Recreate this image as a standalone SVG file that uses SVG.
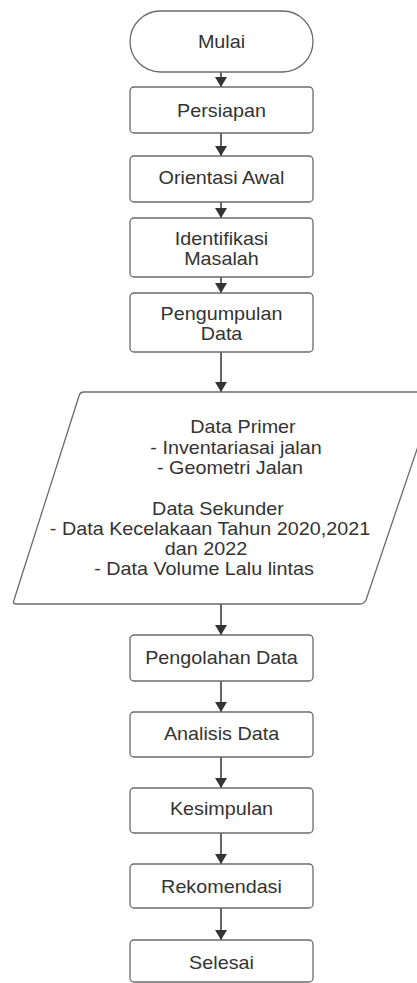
<svg xmlns="http://www.w3.org/2000/svg" width="417" height="983" viewBox="0 0 417 983">
  <style>
    .shape { fill: #ffffff; stroke: #6b6b6b; stroke-width: 1.3; }
    .label { font-family: "Liberation Sans", Arial, sans-serif; font-size: 17.8px; fill: #333333; text-anchor: middle; }
    .edge { stroke: #333333; stroke-width: 1.5; fill: none; marker-end: url(#arrow); }
  </style>
  <defs>
    <marker id="arrow" viewBox="0 0 10 12" refX="10" refY="6" markerWidth="10" markerHeight="12" markerUnits="userSpaceOnUse" orient="auto">
      <path d="M0,0 L10,6 L0,12 Z" fill="#333333"/>
    </marker>
  </defs>
  <rect width="417" height="983" fill="#ffffff"/>

  <g id="connectors">
    <line class="edge" x1="221" y1="72" x2="221" y2="87"/>
    <line class="edge" x1="221" y1="133" x2="221" y2="156"/>
    <line class="edge" x1="221" y1="202" x2="221" y2="218"/>
    <line class="edge" x1="221" y1="277" x2="221" y2="293"/>
    <line class="edge" x1="221" y1="352" x2="221" y2="392"/>
    <line class="edge" x1="221" y1="604" x2="221" y2="635"/>
    <line class="edge" x1="221" y1="681" x2="221" y2="712"/>
    <line class="edge" x1="221" y1="757" x2="221" y2="788"/>
    <line class="edge" x1="221" y1="833" x2="221" y2="864"/>
    <line class="edge" x1="221" y1="908" x2="221" y2="940"/>
  </g>

  <!-- labels use a slightly widened sans face: translate to the anchor, then stretch 1.11x -->
  <g id="mulai">
    <rect class="shape" x="130" y="11" width="183" height="61" rx="30.5" ry="30.5"/>
    <text class="label" transform="translate(221.5,48) scale(1.11,1)">Mulai</text>
  </g>
  <g id="persiapan">
    <rect class="shape" x="130" y="87" width="183" height="46" rx="4"/>
    <text class="label" transform="translate(221.5,117) scale(1.11,1)">Persiapan</text>
  </g>
  <g id="orientasi-awal">
    <rect class="shape" x="130" y="156" width="183" height="46" rx="4"/>
    <text class="label" transform="translate(221.5,184) scale(1.11,1)">Orientasi Awal</text>
  </g>
  <g id="identifikasi-masalah">
    <rect class="shape" x="130" y="218" width="183" height="59" rx="4"/>
    <text class="label" transform="translate(221.5,245) scale(1.11,1)">Identifikasi</text>
    <text class="label" transform="translate(221.5,265) scale(1.11,1)">Masalah</text>
  </g>
  <g id="pengumpulan-data">
    <rect class="shape" x="130" y="293" width="183" height="59" rx="4"/>
    <text class="label" transform="translate(221.5,320) scale(1.11,1)">Pengumpulan</text>
    <text class="label" transform="translate(221.5,340) scale(1.11,1)">Data</text>
  </g>
  <g id="data-input">
    <path class="shape" d="M84,392 L432,392 Q436,392 435,396 L366,600 Q364,604 360,604 L17,604 Q12,604 14,600 L79,396 Q80,392 84,392 Z"/>
    <text class="label" transform="translate(243,433) scale(1.11,1)">Data Primer</text>
    <text class="label" transform="translate(236,454) scale(1.11,1)">- Inventariasai jalan</text>
    <text class="label" transform="translate(230,474) scale(1.11,1)">- Geometri Jalan</text>
    <text class="label" transform="translate(218,515) scale(1.11,1)">Data Sekunder</text>
    <text class="label" transform="translate(210,535) scale(1.11,1)">- Data Kecelakaan Tahun 2020,2021</text>
    <text class="label" transform="translate(206,555) scale(1.11,1)">dan 2022</text>
    <text class="label" transform="translate(204,575) scale(1.11,1)">- Data Volume Lalu lintas</text>
  </g>
  <g id="pengolahan-data">
    <rect class="shape" x="130" y="635" width="183" height="46" rx="4"/>
    <text class="label" transform="translate(221.5,664) scale(1.11,1)">Pengolahan Data</text>
  </g>
  <g id="analisis-data">
    <rect class="shape" x="130" y="712" width="183" height="45" rx="4"/>
    <text class="label" transform="translate(221.5,740) scale(1.11,1)">Analisis Data</text>
  </g>
  <g id="kesimpulan">
    <rect class="shape" x="130" y="788" width="183" height="45" rx="4"/>
    <text class="label" transform="translate(221.5,815) scale(1.11,1)">Kesimpulan</text>
  </g>
  <g id="rekomendasi">
    <rect class="shape" x="130" y="864" width="183" height="44" rx="4"/>
    <text class="label" transform="translate(221.5,893) scale(1.11,1)">Rekomendasi</text>
  </g>
  <g id="selesai">
    <rect class="shape" x="130" y="940" width="183" height="42" rx="4"/>
    <text class="label" transform="translate(221.5,969) scale(1.11,1)">Selesai</text>
  </g>
</svg>
